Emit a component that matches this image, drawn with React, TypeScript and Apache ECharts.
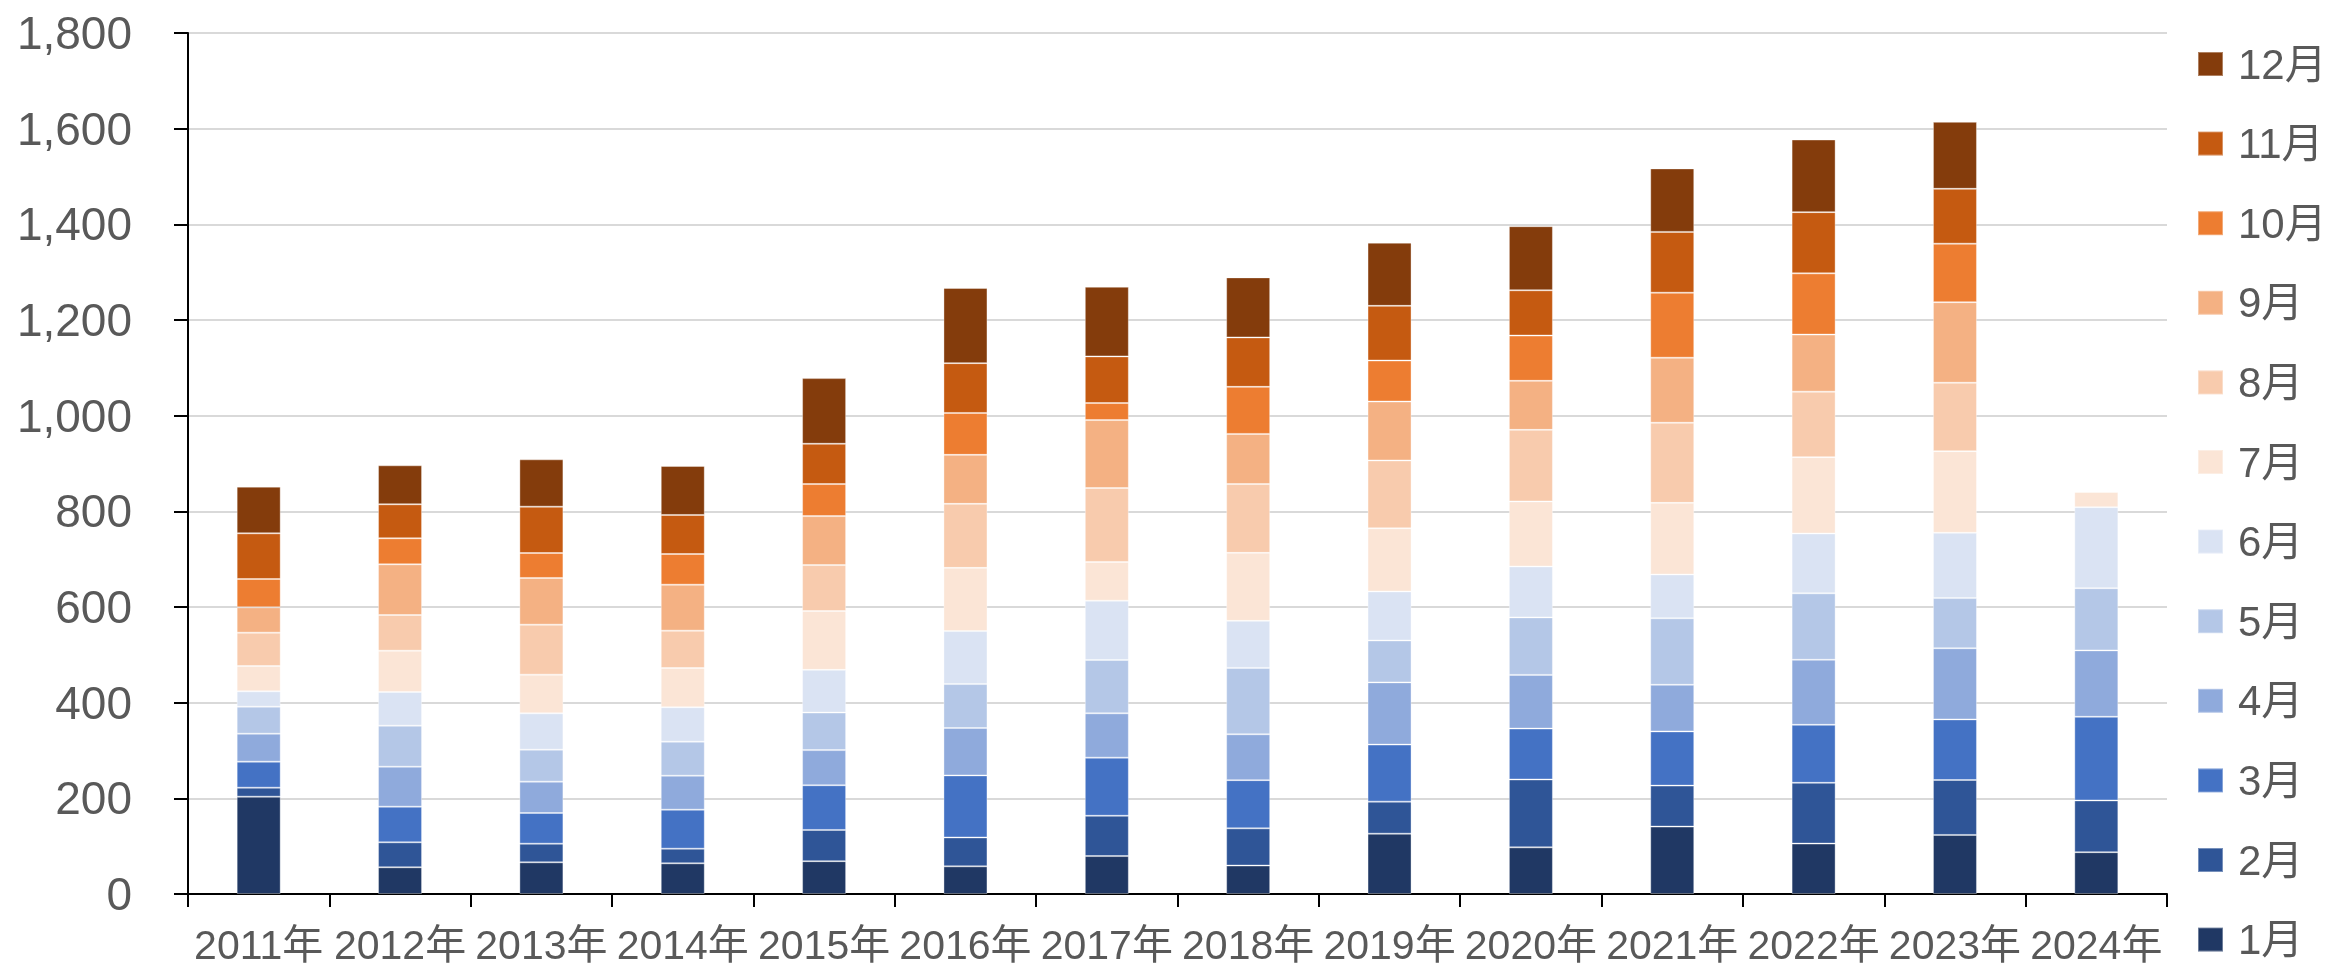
import React, { useEffect, useRef } from "react";
import * as echarts from "echarts";

const years = ["2011年", "2012年", "2013年", "2014年", "2015年", "2016年", "2017年", "2018年", "2019年", "2020年", "2021年", "2022年", "2023年", "2024年"];
const months = ["1月", "2月", "3月", "4月", "5月", "6月", "7月", "8月", "9月", "10月", "11月", "12月"];
const yTicks = [0, 200, 400, 600, 800, 1000, 1200, 1400, 1600, 1800];

const m01 = [203.5, 55.8, 66.2, 64.1, 68.6, 57.8, 79.3, 59.5, 126.1, 97.5, 140.9, 105.4, 123.5, 87.4];
const m02 = [18.8, 52.2, 39.0, 30.7, 65.3, 60.4, 84.3, 77.7, 67.0, 141.9, 85.7, 127.1, 114.8, 108.2];
const m03 = [54.4, 74.6, 64.1, 81.5, 93.4, 129.7, 121.5, 100.8, 119.2, 106.4, 113.3, 121.2, 126.7, 174.9];
const m04 = [58.5, 83.6, 65.6, 71.1, 73.5, 99.2, 92.6, 95.9, 130.1, 112.3, 97.5, 136.0, 148.7, 138.8];
const m05 = [56.5, 85.7, 66.9, 71.1, 78.5, 91.7, 111.5, 138.8, 87.6, 120.2, 139.0, 138.9, 104.9, 130.0];
const m06 = [32.0, 70.4, 75.9, 71.8, 89.3, 110.8, 124.0, 98.3, 102.5, 106.4, 91.6, 125.1, 136.6, 169.4];
const m07 = [53.0, 86.4, 80.9, 82.2, 123.1, 132.2, 81.0, 142.2, 132.0, 136.0, 149.7, 159.6, 170.5, 31.7];
const m08 = [69.7, 74.6, 104.5, 78.1, 95.9, 133.9, 154.5, 143.8, 141.9, 149.7, 167.5, 136.9, 143.2, null];
const m09 = [52.9, 105.9, 97.6, 96.1, 102.4, 102.4, 142.1, 104.9, 123.2, 102.5, 136.0, 119.3, 168.3, null];
const m10 = [59.3, 54.4, 52.2, 64.1, 67.0, 87.6, 35.6, 98.4, 85.7, 94.6, 135.9, 128.0, 122.4, null];
const m11 = [95.4, 71.1, 96.9, 81.6, 84.3, 104.1, 97.5, 103.3, 114.3, 94.6, 127.1, 128.0, 114.7, null];
const m12 = [97.6, 81.5, 98.9, 102.4, 137.2, 157.1, 145.6, 125.5, 132.0, 134.0, 132.7, 151.8, 139.9, null];

const monthValues = [m01, m02, m03, m04, m05, m06, m07, m08, m09, m10, m11, m12];
const colors = ["#203864", "#2F5597", "#4472C4", "#8FAADC", "#B4C7E7", "#DAE3F3", "#FBE5D6", "#F8CBAD", "#F4B183", "#ED7D31", "#C55A11", "#843C0C"];

const FONT = "'Liberation Sans', Arial, 'Noto Sans CJK SC', sans-serif";
const TXT = "#595959";

export default function App() {
  const ref = useRef<HTMLDivElement>(null);
  useEffect(() => {
    if (!ref.current) return;
    const chart = echarts.init(ref.current, null, { renderer: "svg" });
    const series = months.map((m, i) => ({
      name: m,
      type: "bar",
      stack: "total",
      barWidth: 44,
      data: monthValues[i],
      itemStyle: { color: colors[i], borderColor: "rgba(255,255,255,0.35)", borderWidth: 1 },
    }));
    chart.setOption({
      animation: false,
      textStyle: { fontFamily: FONT },
      grid: { left: 188, right: 161, top: 33, bottom: 75, containLabel: false },
      legend: {
        orient: "vertical",
        left: 2192,
        top: 38,
        data: months.slice().reverse(),
        itemWidth: 25,
        itemHeight: 24,
        itemGap: 37.6,
        icon: "rect",
        textStyle: { color: TXT, fontSize: 42, lineHeight: 42, fontFamily: FONT, padding: [0, 0, 0, 10] },
      },
      xAxis: {
        type: "category",
        data: years,
        axisLine: { lineStyle: { color: "#000", width: 2 } },
        axisTick: { show: true, alignWithLabel: false, length: 13, lineStyle: { color: "#000", width: 2 } },
        axisLabel: { color: TXT, fontSize: 41, margin: 30, interval: 0, fontFamily: FONT },
      },
      yAxis: {
        type: "value",
        min: yTicks[0],
        max: yTicks[yTicks.length - 1],
        interval: 200,
        axisLine: { show: true, lineStyle: { color: "#000", width: 2 } },
        axisTick: { show: true, length: 14, lineStyle: { color: "#000", width: 2 } },
        splitLine: { show: true, lineStyle: { color: "#D9D9D9", width: 2 } },
        axisLabel: {
          color: TXT,
          fontSize: 46,
          margin: 56,
          fontFamily: FONT,
          formatter: (v: number) => v.toLocaleString("en-US"),
        },
      },
      series,
    });
    return () => chart.dispose();
  }, []);
  return <div ref={ref} style={{ position: "fixed", left: 0, top: 0, width: 2328, height: 969 }} />;
}
